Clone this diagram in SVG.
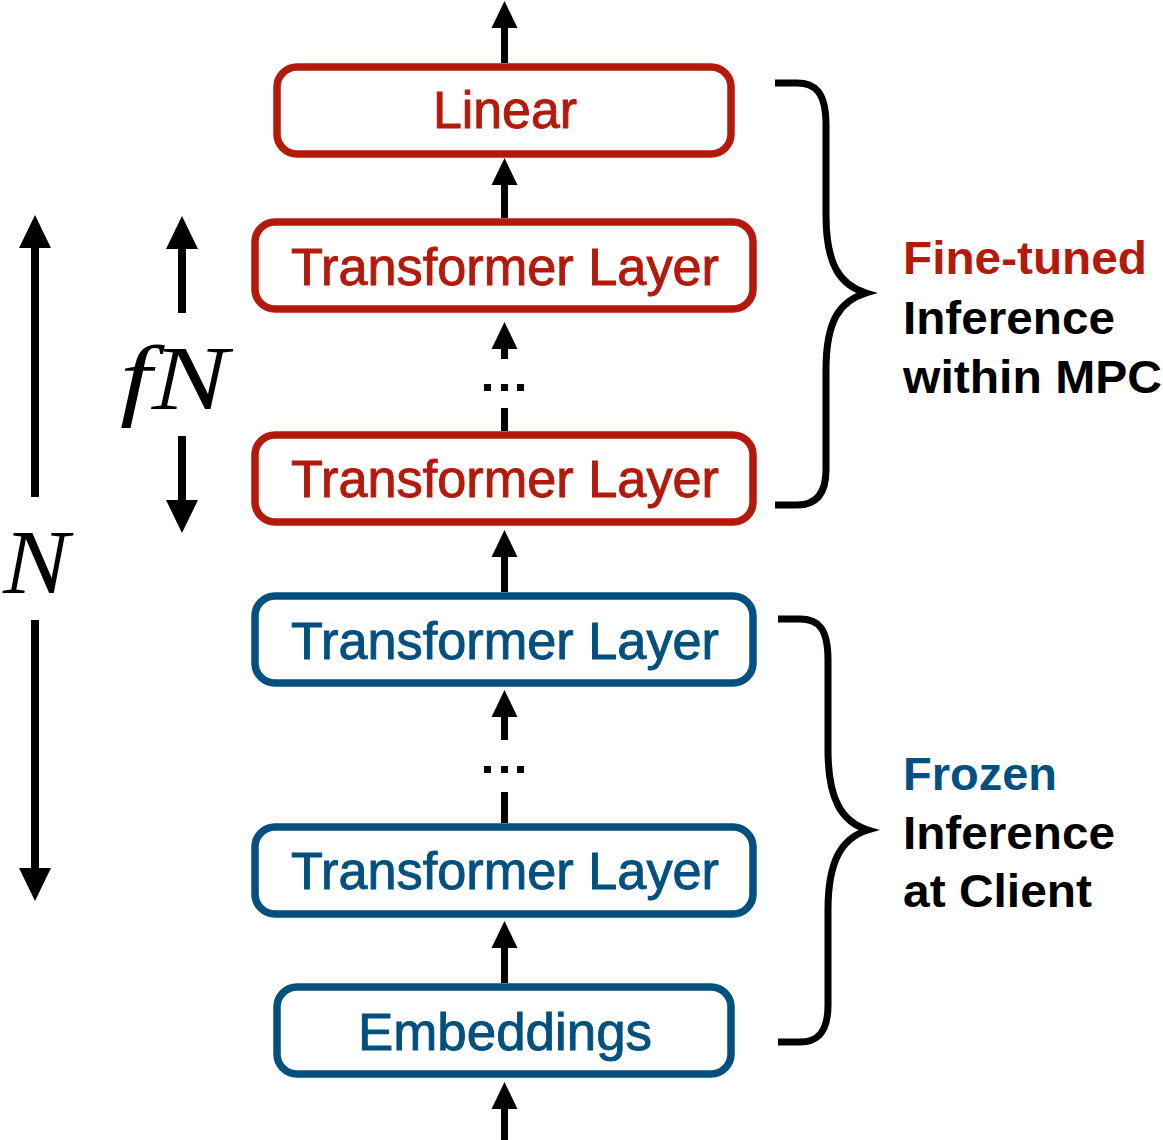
<svg xmlns="http://www.w3.org/2000/svg" width="1163" height="1140" viewBox="0 0 1163 1140">
<style>
.box{fill:#fff;stroke-width:7.5}
.red{stroke:#B41A0B}
.blue{stroke:#02507F}
.lbl{font-family:"Liberation Sans",Arial,sans-serif;font-size:51px;text-anchor:middle;stroke-width:0.9}
.tr{fill:#B41A0B;stroke:#B41A0B}
.tb{fill:#02507F;stroke:#02507F}
.side{font-family:"Liberation Sans",Arial,sans-serif;font-size:46px;font-weight:bold}
.shaft{stroke:#000;stroke-width:7;fill:none}
.shaft8{stroke:#000;stroke-width:8;fill:none}
.brace{stroke:#000;stroke-width:7;fill:none}
.math{font-family:"Liberation Serif","Times New Roman",serif;font-style:italic;fill:#000}
</style>
<defs>
<marker id="ah" markerUnits="userSpaceOnUse" markerWidth="28" markerHeight="27" refX="0" refY="13" orient="auto" overflow="visible">
<path d="M0,0 L27,13 L0,26 z" fill="#000"/>
</marker>
<marker id="ahb" markerUnits="userSpaceOnUse" markerWidth="33" markerHeight="33" refX="0" refY="16" orient="auto" overflow="visible">
<path d="M0,0 L33,16 L0,32 z" fill="#000"/>
</marker>
</defs>

<g id="node-linear">
<rect class="box red" x="277" y="67" width="454" height="87" rx="20"/>
<text class="lbl tr" x="505" y="128" textLength="144" lengthAdjust="spacingAndGlyphs">Linear</text>
</g>
<g id="node-tl-red-1">
<rect class="box red" x="255" y="222" width="498" height="87" rx="20"/>
<text class="lbl tr" x="505" y="285" textLength="428" lengthAdjust="spacingAndGlyphs">Transformer Layer</text>
</g>
<g id="node-tl-red-2">
<rect class="box red" x="255" y="435" width="498" height="87" rx="20"/>
<text class="lbl tr" x="505" y="497" textLength="428" lengthAdjust="spacingAndGlyphs">Transformer Layer</text>
</g>
<g id="node-tl-blue-1">
<rect class="box blue" x="255" y="596" width="498" height="87" rx="20"/>
<text class="lbl tb" x="505" y="659" textLength="428" lengthAdjust="spacingAndGlyphs">Transformer Layer</text>
</g>
<g id="node-tl-blue-2">
<rect class="box blue" x="255" y="827" width="498" height="87" rx="20"/>
<text class="lbl tb" x="505" y="889" textLength="428" lengthAdjust="spacingAndGlyphs">Transformer Layer</text>
</g>
<g id="node-embeddings">
<rect class="box blue" x="277" y="987" width="454" height="87" rx="20"/>
<text class="lbl tb" x="505" y="1050" textLength="294" lengthAdjust="spacingAndGlyphs">Embeddings</text>
</g>

<g id="connectors">
<line class="shaft" x1="504.5" y1="63" x2="504.5" y2="28" marker-end="url(#ah)"/>
<line class="shaft" x1="504.5" y1="218" x2="504.5" y2="185" marker-end="url(#ah)"/>
<line class="shaft" x1="504.5" y1="359" x2="504.5" y2="349" marker-end="url(#ah)"/>
<rect x="484" y="384" width="7" height="7"/>
<rect x="501" y="384" width="7" height="7"/>
<rect x="517" y="384" width="7" height="7"/>
<line class="shaft" x1="504.5" y1="408" x2="504.5" y2="431"/>
<line class="shaft" x1="504.5" y1="592" x2="504.5" y2="557" marker-end="url(#ah)"/>
<line class="shaft" x1="504.5" y1="740" x2="504.5" y2="717" marker-end="url(#ah)"/>
<rect x="484" y="766" width="7" height="7"/>
<rect x="501" y="766" width="7" height="7"/>
<rect x="517" y="766" width="7" height="7"/>
<line class="shaft" x1="504.5" y1="792" x2="504.5" y2="823"/>
<line class="shaft" x1="504.5" y1="983" x2="504.5" y2="948" marker-end="url(#ah)"/>
<line class="shaft" x1="504.5" y1="1140" x2="504.5" y2="1109" marker-end="url(#ah)"/>
</g>

<g id="fn-span">
<line class="shaft8" x1="182" y1="313" x2="182" y2="249" marker-end="url(#ahb)"/>
<line class="shaft8" x1="182" y1="436" x2="182" y2="500" marker-end="url(#ahb)"/>
<text class="math" x="120" y="409" font-size="92" textLength="108" lengthAdjust="spacingAndGlyphs">fN</text>
</g>
<g id="n-span">
<line class="shaft8" x1="35" y1="497" x2="35" y2="248" marker-end="url(#ahb)"/>
<line class="shaft8" x1="35" y1="620" x2="35" y2="868" marker-end="url(#ahb)"/>
<text class="math" x="3" y="593" font-size="92" textLength="66" lengthAdjust="spacingAndGlyphs">N</text>
</g>

<g id="brace-top">
<path class="brace" d="M775,83 H797 C815,83 826,92 826,125 V215 C826,265 840,285 866,293 C840,301 826,320 826,370 V470 C826,495 815,505 797,505 H775"/>
<text class="side" x="903" y="274" fill="#B41A0B" textLength="244" lengthAdjust="spacingAndGlyphs">Fine-tuned</text>
<text class="side" x="903" y="334" fill="#000" textLength="212" lengthAdjust="spacingAndGlyphs">Inference</text>
<text class="side" x="903" y="393" fill="#000" textLength="259" lengthAdjust="spacingAndGlyphs">within MPC</text>
</g>
<g id="brace-bottom">
<path class="brace" d="M778,619 H800 C818,619 828,628 828,660 V750 C828,800 842,822 868,830 C842,838 828,860 828,910 V1005 C828,1032 818,1042 800,1042 H778"/>
<text class="side" x="903" y="790" fill="#02507F" textLength="154" lengthAdjust="spacingAndGlyphs">Frozen</text>
<text class="side" x="903" y="849" fill="#000" textLength="212" lengthAdjust="spacingAndGlyphs">Inference</text>
<text class="side" x="903" y="907" fill="#000" textLength="189" lengthAdjust="spacingAndGlyphs">at Client</text>
</g>
</svg>
